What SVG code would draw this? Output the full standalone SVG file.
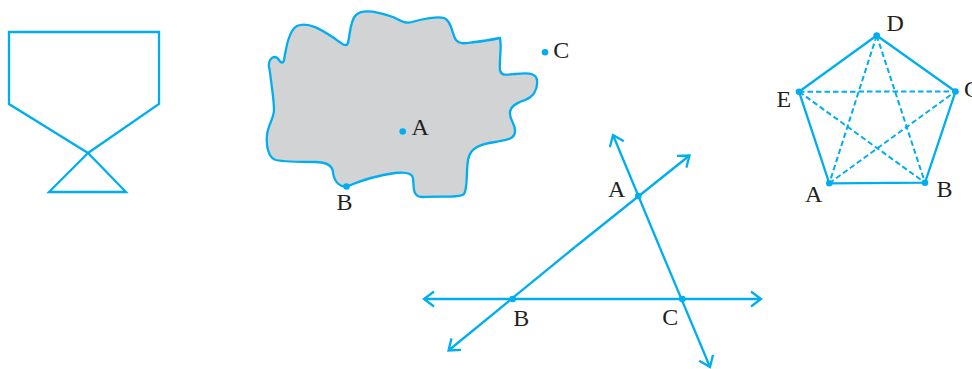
<svg xmlns="http://www.w3.org/2000/svg" width="972" height="369" viewBox="0 0 972 369">
<style>
.ln{fill:none;stroke:#00AEEF;stroke-width:2.3;stroke-linejoin:miter;stroke-linecap:butt}
.dash{fill:none;stroke:#00AEEF;stroke-width:2;stroke-dasharray:5.5 3}
.dot{fill:#00AEEF}
.lbl{font-family:"Liberation Serif","Times New Roman",serif;font-size:24px;fill:#231F20}
</style>
<defs>
<marker id="arr" markerUnits="userSpaceOnUse" markerWidth="20" markerHeight="20" viewBox="-12 -10 14 20" refX="0" refY="0" orient="auto">
<path d="M-10,-7.5 L0,0 L-10,7.5" fill="none" stroke="#00AEEF" stroke-width="2.3"/>
</marker>
</defs>
<rect width="972" height="369" fill="#ffffff"/>

<g id="hourglass">
<polygon class="ln" points="9,32 159,32 159,104 88,153 126,192 49,192 88,153 9,104"/>
</g>

<g id="region">
<path class="ln" style="fill:#D1D3D4" d="M269,67 C268,58 275,54 279,60 C281,63 283,64 284,60 C286,48 289,30 297,26 C308,21 322,30 334,38 C341,43 346,48 348,43 C350,35 350,20 356,15 C362,9 376,11 393,17 C400,20 404,24 412,22 C422,19 438,16 444,18 C452,21 452,35 456,40 C460,45 466,43 475,42 C485,41 495,39 500,38 C502,46 499,62 500,70 C501,76 506,75 515,74 C525,73 536,72 537,80 C538,90 533,97 525,100 C516,103 511,106 510,112 C509,120 516,124 515,132 C514,140 505,140 495,142 C480,144 470,148 468,160 C466,172 468,188 464,194 C460,198 440,196 422,197 C412,197 414,186 413,178 C412,173 405,172 395,173 C380,175 360,181 348,186 C340,188 334,182 333,172 C332,164 325,162 315,162 C300,162 285,162 276,160 C268,158 266,145 267,135 C268,125 274,118 274,110 C274,100 272,90 271,80 C270,74 270,70 269,67 Z"/>
<circle class="dot" cx="402.7" cy="131.5" r="3.3"/>
<circle class="dot" cx="346.5" cy="186.5" r="3.3"/>
<circle class="dot" cx="545" cy="52.3" r="3.3"/>
<text class="lbl" x="411.5" y="135">A</text>
<text class="lbl" x="336.5" y="210">B</text>
<text class="lbl" x="553.3" y="58.3">C</text>
</g>

<g id="connectors">
<line class="ln" x1="512.7" y1="299" x2="424" y2="299" marker-end="url(#arr)"/>
<line class="ln" x1="512.7" y1="299" x2="761" y2="299" marker-end="url(#arr)"/>
<line class="ln" x1="575" y1="247" x2="448.5" y2="350.5" marker-end="url(#arr)"/>
<line class="ln" x1="575" y1="247" x2="689.5" y2="155.5" marker-end="url(#arr)"/>
<line class="ln" x1="660" y1="248" x2="613" y2="135" marker-end="url(#arr)"/>
<line class="ln" x1="660" y1="248" x2="710" y2="367" marker-end="url(#arr)"/>
</g>

<g id="lines-points">
<circle class="dot" cx="638.3" cy="196" r="3.3"/>
<circle class="dot" cx="512.7" cy="299" r="3.3"/>
<circle class="dot" cx="682.3" cy="299" r="3.3"/>
<text class="lbl" x="608" y="196.5">A</text>
<text class="lbl" x="513.3" y="326">B</text>
<text class="lbl" x="662.3" y="325">C</text>
</g>

<g id="pentagon">
<polygon class="ln" points="876.7,35.5 955.5,91.5 925,182.7 829.3,183.3 799,91.7"/>
<line class="dash" x1="799" y1="91.7" x2="955.5" y2="91.5"/>
<line class="dash" x1="799" y1="91.7" x2="925" y2="182.7"/>
<line class="dash" x1="876.7" y1="35.5" x2="829.3" y2="183.3"/>
<line class="dash" x1="876.7" y1="35.5" x2="925" y2="182.7"/>
<line class="dash" x1="829.3" y1="183.3" x2="955.5" y2="91.5"/>
<circle class="dot" cx="876.7" cy="35.5" r="3.3"/>
<circle class="dot" cx="955.5" cy="91.5" r="3.3"/>
<circle class="dot" cx="925" cy="182.7" r="3.3"/>
<circle class="dot" cx="829.3" cy="183.3" r="3.3"/>
<circle class="dot" cx="799" cy="91.7" r="3.3"/>
<text class="lbl" x="886.5" y="31">D</text>
<text class="lbl" x="776.5" y="106.5">E</text>
<text class="lbl" x="964" y="97">C</text>
<text class="lbl" x="805" y="201.5">A</text>
<text class="lbl" x="936.5" y="196.5">B</text>
</g>
</svg>
